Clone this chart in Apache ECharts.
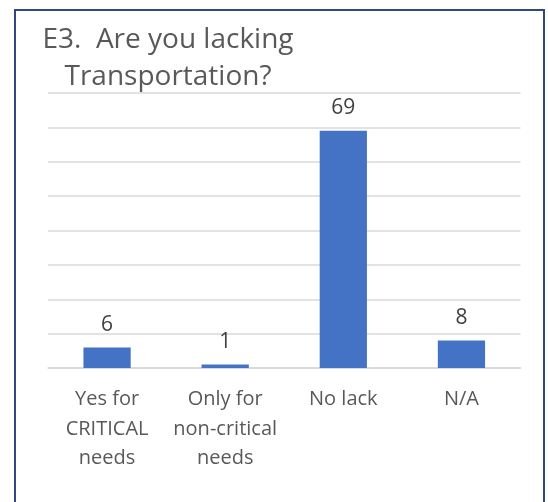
<!DOCTYPE html>
<html>
<head>
<meta charset="utf-8">
<script src="https://cdn.jsdelivr.net/npm/echarts@6/dist/echarts.min.js"></script>
<style>html,body{margin:0;padding:0;background:#fff}#c{width:548px;height:502px}</style>
</head>
<body>
<div id="c"></div>
<script>
const categories = ['Yes for\nCRITICAL\nneeds', 'Only for\nnon-critical\nneeds', 'No lack', 'N/A'];
const values = [6, 1, 69, 8];
const titleText = 'E3.  Are you lacking\nTransportation?';

const chart = echarts.init(document.getElementById('c'));
const font = 'Open Sans';
chart.setOption({
  animation: false,
  backgroundColor: '#fff',
  title: {
    text: titleText,
    left: 163, top: 17,
    textAlign: 'center',
    textStyle: { fontFamily: font, fontSize: 28, fontWeight: 'normal', color: '#595959', lineHeight: 37 }
  },
  graphic: [{
    type: 'rect', shape: { x: 15, y: 10, width: 529, height: 600 },
    style: { fill: 'none', stroke: '#2F4A7A', lineWidth: 2 }, silent: true
  }],
  grid: { left: 48, right: 27.5, top: 93, bottom: 134 },
  xAxis: {
    type: 'category', data: categories,
    axisLine: { lineStyle: { color: '#d9d9d9', width: 1.5 } },
    axisTick: { show: false },
    axisLabel: { interval: 0, margin: 17, fontFamily: font, fontSize: 20, lineHeight: 29.5, color: '#595959' }
  },
  yAxis: {
    type: 'value', min: 0, max: 80, interval: 10,
    axisLabel: { show: false }, axisLine: { show: false }, axisTick: { show: false },
    splitLine: { lineStyle: { color: '#d9d9d9', width: 1.5 } }
  },
  series: [{
    type: 'bar', data: values, barWidth: '40%',
    itemStyle: { color: '#4472C4' },
    label: { show: true, position: 'top', distance: 12, fontFamily: font, fontSize: 21, color: '#404040' }
  }]
});
</script>
</body>
</html>
